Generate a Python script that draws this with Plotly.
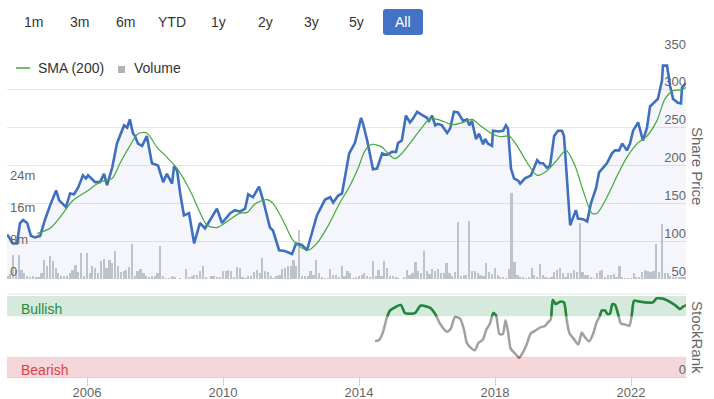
import numpy as np
import pandas as pd
import plotly.graph_objects as go

# ---------------- data ----------------
price_t = [2003.65, 2003.82, 2003.94, 2004.03, 2004.12, 2004.24, 2004.35, 2004.47, 2004.62, 2004.76,
           2004.91, 2005.09, 2005.18, 2005.38, 2005.50, 2005.62, 2005.74, 2005.88, 2005.97, 2006.03,
           2006.24, 2006.38, 2006.50, 2006.59, 2006.74, 2006.88, 2007.00, 2007.09, 2007.18, 2007.26,
           2007.35, 2007.41, 2007.50, 2007.62, 2007.76, 2007.91, 2008.09, 2008.24, 2008.35, 2008.50,
           2008.56, 2008.65, 2008.74, 2008.85, 2009.00, 2009.15, 2009.32, 2009.47, 2009.62, 2009.82,
           2009.97, 2010.21, 2010.35, 2010.50, 2010.65, 2010.74, 2010.88, 2011.06, 2011.18, 2011.38,
           2011.47, 2011.65, 2011.82, 2012.03, 2012.15, 2012.32, 2012.47, 2012.62, 2012.76, 2013.00,
           2013.15, 2013.24, 2013.38, 2013.50, 2013.71, 2013.88, 2014.06, 2014.12, 2014.24, 2014.41,
           2014.53, 2014.68, 2014.82, 2014.97, 2015.09, 2015.15, 2015.26, 2015.38, 2015.50, 2015.59,
           2015.71, 2015.85, 2016.00, 2016.06, 2016.15, 2016.24, 2016.32, 2016.44, 2016.59, 2016.68,
           2016.79, 2016.91, 2017.06, 2017.18, 2017.24, 2017.32, 2017.44, 2017.53, 2017.65, 2017.71,
           2017.79, 2017.91, 2017.94, 2018.12, 2018.24, 2018.32, 2018.38, 2018.47, 2018.56, 2018.68,
           2018.74, 2018.88, 2019.06, 2019.24, 2019.32, 2019.41, 2019.53, 2019.62, 2019.74, 2019.85,
           2019.97, 2020.03, 2020.12, 2020.21, 2020.38, 2020.44, 2020.59, 2020.71, 2020.82, 2020.97,
           2021.06, 2021.15, 2021.29, 2021.44, 2021.53, 2021.65, 2021.74, 2021.88, 2021.97, 2022.06,
           2022.21, 2022.35, 2022.47, 2022.56, 2022.68, 2022.79, 2022.91, 2022.94, 2023.06, 2023.15,
           2023.24, 2023.38, 2023.47, 2023.50, 2023.62]
price_v = [109, 97, 97, 124, 128, 124, 107, 105, 107, 128,
           147, 167, 154, 145, 163, 162, 171, 187, 183, 187,
           178, 178, 189, 174, 197, 229, 243, 253, 250, 261,
           243, 239, 229, 226, 239, 203, 200, 178, 189, 176,
           199, 193, 163, 134, 137, 97, 124, 117, 128, 143,
           124, 137, 141, 139, 143, 162, 158, 172, 154, 118,
           114, 88, 87, 83, 97, 95, 88, 111, 134, 155,
           158, 151, 160, 163, 216, 230, 263, 255, 233, 195,
           196, 216, 214, 218, 218, 230, 233, 266, 257, 262,
           271, 267, 263, 259, 266, 253, 255, 253, 243, 249,
           271, 270, 259, 261, 253, 259, 235, 242, 228, 235,
           229, 226, 246, 245, 246, 253, 249, 196, 183, 180,
           176, 183, 187, 207, 203, 203, 197, 200, 239, 246,
           246, 239, 176, 121, 141, 130, 129, 126, 150, 170,
           191, 196, 203, 216, 220, 220, 229, 220, 229, 246,
           257, 233, 250, 278, 283, 288, 312, 332, 332, 305,
           288, 283, 282, 303, 309]

sma_t = [2004.53, 2004.91, 2005.21, 2005.59, 2006.03, 2006.38, 2006.74, 2006.97, 2007.26, 2007.50,
         2007.76, 2008.06, 2008.35, 2008.65, 2009.03, 2009.32, 2009.53, 2009.82, 2010.21, 2010.50,
         2010.71, 2010.94, 2011.29, 2011.47, 2011.76, 2012.06, 2012.32, 2012.50, 2012.76, 2013.06,
         2013.44, 2013.74, 2013.97, 2014.18, 2014.38, 2014.68, 2014.85, 2015.06, 2015.26, 2015.56,
         2015.85, 2016.09, 2016.38, 2016.74, 2017.06, 2017.32, 2017.56, 2017.91, 2018.15, 2018.41,
         2018.65, 2018.94, 2019.24, 2019.53, 2019.82, 2020.09, 2020.35, 2020.59, 2020.85, 2021.00,
         2021.29, 2021.62, 2021.88, 2022.18, 2022.47, 2022.76, 2023.00, 2023.24, 2023.44, 2023.62]
sma_v = [110, 117, 132, 154, 167, 178, 183, 203, 226, 242,
         243, 224, 211, 196, 167, 138, 121, 118, 129, 137,
         138, 149, 155, 150, 128, 101, 91, 88, 97, 118,
         151, 174, 196, 220, 228, 224, 216, 209, 216, 233,
         250, 262, 260, 254, 257, 261, 253, 242, 238, 239,
         226, 204, 187, 193, 207, 220, 200, 167, 137, 137,
         158, 189, 211, 229, 239, 259, 288, 299, 300, 303]

rank_t = [2014.47, 2014.60, 2014.71, 2014.81, 2014.91, 2015.06, 2015.23, 2015.35, 2015.50, 2015.65,
          2015.81, 2015.99, 2016.11, 2016.24, 2016.38, 2016.58, 2016.70, 2016.82, 2016.97, 2017.09,
          2017.17, 2017.29, 2017.41, 2017.51, 2017.64, 2017.74, 2017.85, 2017.95, 2018.03, 2018.13,
          2018.23, 2018.31, 2018.39, 2018.46, 2018.59, 2018.71, 2018.83, 2018.93, 2019.05, 2019.18,
          2019.32, 2019.47, 2019.57, 2019.64, 2019.70, 2019.79, 2019.91, 2020.03, 2020.11, 2020.19,
          2020.30, 2020.45, 2020.55, 2020.63, 2020.77, 2020.89, 2020.99, 2021.07, 2021.14, 2021.24,
          2021.30, 2021.38, 2021.45, 2021.53, 2021.63, 2021.70, 2021.82, 2021.95, 2022.02, 2022.09,
          2022.26, 2022.46, 2022.64, 2022.75, 2022.90, 2023.05, 2023.29, 2023.44, 2023.54, 2023.64]
rank_v = [44, 46, 56, 72, 82, 86, 89, 79, 78, 79,
          88, 87, 85, 78, 66, 56, 60, 74, 72, 58,
          42, 36, 33, 42, 46, 58, 66, 79, 76, 53,
          53, 70, 54, 35, 29, 24, 31, 40, 54, 57,
          61, 63, 68, 71, 95, 90, 93, 92, 70, 54,
          48, 40, 55, 50, 44, 54, 68, 74, 82, 82,
          78, 78, 90, 89, 76, 66, 65, 63, 76, 94,
          93, 92, 92, 97, 97, 95, 89, 84, 87, 89]

vol_start = "2003-09-01"
vol_m = [0.8, 1.2, 6.1, 2.3, 6.1, 2.3, 1.5, 0.8, 0.6, 0.7,
         0.3, 0.5, 1.5, 4.8, 3.3, 5.8, 4.4, 2.75, 1.5, 0.7,
         0.8, 0.7, 1.5, 2.3, 3.6, 1.7, 6.5, 0.7, 6.5, 1.5,
         3.2, 2.75, 1.6, 4.4, 5.0, 2.75, 4.8, 4.0, 6.9, 3.2,
         1.7, 1.9, 2.3, 3.0, 8.8, 0.8, 1.9, 2.5, 1.5, 0.7,
         0.5, 0.7, 0.7, 1.6, 8.3, 0.8, 0.25, 0.2, 0.7, 0.4,
         0.0, 0.25, 0.0, 2.5, 0.3, 0.7, 0.9, 1.1, 1.9, 3.3,
         0.3, 0.0, 0.8, 0.7, 0.3, 0.5, 1.9, 1.9, 2.3, 1.9,
         0.5, 3.0, 2.75, 0.3, 0.2, 0.8, 0.8, 1.7, 2.3, 1.5,
         5.25, 1.9, 1.7, 0.8, 0.2, 0.8, 1.1, 2.5, 2.75, 3.2,
         3.3, 4.8, 3.3, 12.2, 0.7, 0.7, 0.7, 1.9, 1.1, 4.7,
         1.5, 0.3, 0.25, 0.2, 2.5, 1.1, 1.1, 0.4, 3.2, 0.8,
         1.9, 1.5, 0.2, 0.3, 0.7, 1.1, 1.5, 0.8, 0.3, 4.4,
         0.8, 2.3, 0.8, 4.5, 2.7, 0.8, 0.7, 0.5, 0.2, 0.0,
         0.3, 2.3, 1.1, 1.5, 4.2, 1.9, 1.5, 6.9, 1.9, 1.2,
         2.5, 1.9, 2.5, 1.5, 1.5, 4.0, 1.5, 0.7, 1.7, 14.3,
         0.8, 1.1, 1.1, 14.6, 2.0, 2.0, 1.5, 1.1, 0.8, 3.9,
         1.8, 1.2, 2.7, 1.1, 0.6, 0.3, 0.2, 2.5, 21.5, 4.3,
         1.1, 0.6, 0.3, 0.2, 0.3, 2.8, 1.1, 0.3, 3.7, 1.1,
         0.6, 0.2, 0.3, 1.8, 2.25, 2.8, 1.4, 0.4, 1.4, 1.4,
         2.25, 1.8, 14.0, 1.8, 1.0, 1.0, 0.3, 0.2, 1.4, 2.0,
         2.25, 0.3, 1.0, 1.0, 1.2, 0.3, 3.3, 0.6, 0.2, 0.2,
         0.2, 1.4, 0.6, 0.3, 1.8, 2.25, 2.0, 1.8, 2.0, 8.7,
         1.8, 13.7, 1.6, 1.4, 0.8, 0.6, 0.5, 0.4, 0.3, 0.3]

range_buttons = ["1m", "3m", "6m", "YTD", "1y", "2y", "3y", "5y", "All"]
active_button = "All"
price_ticks = [50, 100, 150, 200, 250, 300, 350]
vol_ticks = [0, 8, 16, 24]
vol_tick_text = ["0", "8m", "16m", "24m"]
year_ticks = [2006, 2010, 2014, 2018, 2022]
x_span = [2003.647, 2023.618]

# ---------------- helpers ----------------
def dy(t):
    y = int(np.floor(t))
    s = pd.Timestamp(year=y, month=1, day=1)
    e = pd.Timestamp(year=y + 1, month=1, day=1)
    return s + (e - s) * (t - y)

W, H = 714, 399
ML, MR, MT, MB = 7, 28, 52, 22
PW, PH = W - ML - MR, H - MT - MB


def px(x):
    return (x - ML) / PW


def py(y):
    return (H - MB - y) / PH


FONT = "Liberation Sans, Arial, sans-serif"
price_dom = [py(279), 1.0]
rank_dom = [0.0, py(296)]
rk = rank_dom[1] - rank_dom[0]
green_dom = [rank_dom[0] + rk * 0.75, rank_dom[1]]
red_dom = [rank_dom[0], rank_dom[0] + rk * 0.25]

price_x = [dy(t) for t in price_t]
sma_x = [dy(t) for t in sma_t]
rank_x = [dy(t) for t in rank_t]
vol_x = pd.date_range(vol_start, periods=len(vol_m), freq="MS")

fig = go.Figure()
fig.add_trace(go.Bar(x=vol_x, y=vol_m, yaxis="y", marker=dict(color="#c6c8ce", line=dict(width=0)),
                     width=19 * 86400000, name="Volume", showlegend=False, hoverinfo="skip"))
fig.add_trace(go.Scatter(x=price_x, y=price_v, yaxis="y2", mode="lines", fill="tozeroy",
                         fillcolor="rgba(70,110,190,0.06)", line=dict(color="#3f6fbf", width=2.6),
                         name="Price", showlegend=False))
fig.add_trace(go.Scatter(x=sma_x, y=sma_v, yaxis="y2", mode="lines",
                         line=dict(color="#44a83c", width=1.2, shape="spline", smoothing=0.8),
                         name="SMA (200)", showlegend=False))
for ax, col in [("y3", "#a0a0a0"), ("y4", "#1f8a3a"), ("y5", "#d9434b")]:
    fig.add_trace(go.Scatter(x=rank_x, y=rank_v, yaxis=ax, mode="lines",
                             line=dict(color=col, width=2.5, shape="spline", smoothing=0.6),
                             showlegend=False, hoverinfo="skip"))

tickfont = dict(family=FONT, size=13, color="#666666")
fig.update_layout(
    width=W, height=H, margin=dict(l=ML, r=MR, t=MT, b=MB, autoexpand=False),
    paper_bgcolor="white", plot_bgcolor="rgba(0,0,0,0)", font=dict(family=FONT),
    showlegend=False, bargap=0,
    xaxis=dict(type="date", anchor="y3", range=[dy(x_span[0]), dy(x_span[1])],
               tickvals=[dy(y) for y in year_ticks], ticktext=[str(y) for y in year_ticks],
               ticks="outside", ticklen=8, tickcolor="#ccd6eb", showgrid=False, automargin=False,
               ticklabelstandoff=-5,
               showline=True, linecolor="#ccd6eb", tickfont=tickfont, zeroline=False),
    yaxis=dict(domain=price_dom, anchor="x", range=[0, (279 - 52) / 4.0], side="left",
               tickvals=vol_ticks, ticktext=vol_tick_text, ticklabelposition="inside",
               ticklabelshift=-8, ticklabeloverflow="allow", showgrid=False, zeroline=False,
               tickfont=tickfont, ticks="", automargin=False),
    yaxis2=dict(overlaying="y", anchor="x", side="right", range=[50, 350], tickvals=price_ticks,
                ticklabelposition="inside", ticklabelshift=-8, ticklabelstandoff=-3,
                ticklabeloverflow="allow", showgrid=True, gridcolor="#e6e6e6", zeroline=False,
                tickfont=tickfont, ticks="", automargin=False),
    yaxis3=dict(domain=rank_dom, anchor="x", range=[0, 100], side="right", tickvals=[0],
                ticklabelposition="inside", ticklabelshift=-8, ticklabelstandoff=-3,
                ticklabeloverflow="allow", showgrid=False, zeroline=False, tickfont=tickfont, ticks="",
                automargin=False),
    yaxis4=dict(domain=green_dom, anchor="x", range=[75, 100], visible=False),
    yaxis5=dict(domain=red_dom, anchor="x", range=[0, 25], visible=False),
)

shapes = [
    dict(type="rect", xref="paper", yref="y3", x0=0, x1=1, y0=75, y1=100,
         fillcolor="#d5eadc", line=dict(width=0), layer="below"),
    dict(type="rect", xref="paper", yref="y3", x0=0, x1=1, y0=0, y1=25,
         fillcolor="#f5d7d9", line=dict(width=0), layer="below"),
    dict(type="line", xref="paper", yref="paper", x0=0, x1=1, y0=py(294), y1=py(294),
         line=dict(color="#e6e6e6", width=1)),
    # legend marks
    dict(type="line", xref="paper", yref="paper", x0=px(16), x1=px(30), y0=py(68), y1=py(68),
         line=dict(color="#44a83c", width=1.5)),
    dict(type="rect", xref="paper", yref="paper", x0=px(118), x1=px(125), y0=py(73), y1=py(66),
         fillcolor="#b0b2b8", line=dict(width=0)),
]


def rrect(x0, x1, y0, y1, r):
    X0, X1 = px(x0), px(x1)
    Y0, Y1 = py(y1), py(y0)
    rx, ry = r / PW, r / PH
    return (f"M{X0+rx},{Y0} L{X1-rx},{Y0} Q{X1},{Y0} {X1},{Y0+ry} L{X1},{Y1-ry} Q{X1},{Y1} {X1-rx},{Y1} "
            f"L{X0+rx},{Y1} Q{X0},{Y1} {X0},{Y1-ry} L{X0},{Y0+ry} Q{X0},{Y0} {X0+rx},{Y0} Z")


btn_cx = [33, 79, 125, 172, 218, 265, 311, 357, 403]
annotations = []
for lab, cx in zip(range_buttons, btn_cx):
    active = lab == active_button
    if active:
        shapes.append(dict(type="path", xref="paper", yref="paper", path=rrect(cx - 20, cx + 20, 9, 35, 3),
                           fillcolor="#4472c4", line=dict(width=0)))
    annotations.append(dict(text=lab, xref="paper", yref="paper", x=px(cx), y=py(22), showarrow=False,
                            xanchor="center", yanchor="middle",
                            font=dict(family=FONT, size=14, color="white" if active else "#333333")))

annotations += [
    dict(text="SMA (200)", xref="paper", yref="paper", x=px(36), y=py(68), xanchor="left", yanchor="middle",
         showarrow=False, font=dict(family=FONT, size=14, color="#333333")),
    dict(text="Volume", xref="paper", yref="paper", x=px(132), y=py(68), xanchor="left", yanchor="middle",
         showarrow=False, font=dict(family=FONT, size=14, color="#333333")),
    dict(text="Share Price", xref="paper", yref="paper", x=px(698), y=py(166), xanchor="center",
         yanchor="middle", textangle=90, showarrow=False, font=dict(family=FONT, size=15, color="#666666")),
    dict(text="StockRank", xref="paper", yref="paper", x=px(698), y=py(337), xanchor="center",
         yanchor="middle", textangle=90, showarrow=False, font=dict(family=FONT, size=15, color="#666666")),
    dict(text="Bullish", xref="paper", yref="paper", x=px(19), y=py(309), xanchor="left", yanchor="middle",
         showarrow=False, font=dict(family=FONT, size=14, color="#2e8b3e")),
    dict(text="Bearish", xref="paper", yref="paper", x=px(19), y=py(370), xanchor="left", yanchor="middle",
         showarrow=False, font=dict(family=FONT, size=14, color="#d9434b")),
]

fig.update_layout(shapes=shapes, annotations=annotations)
fig.write_html("out.html", config={"displayModeBar": False},
               post_script="document.body.style.margin='0';document.body.style.overflow='hidden';")
